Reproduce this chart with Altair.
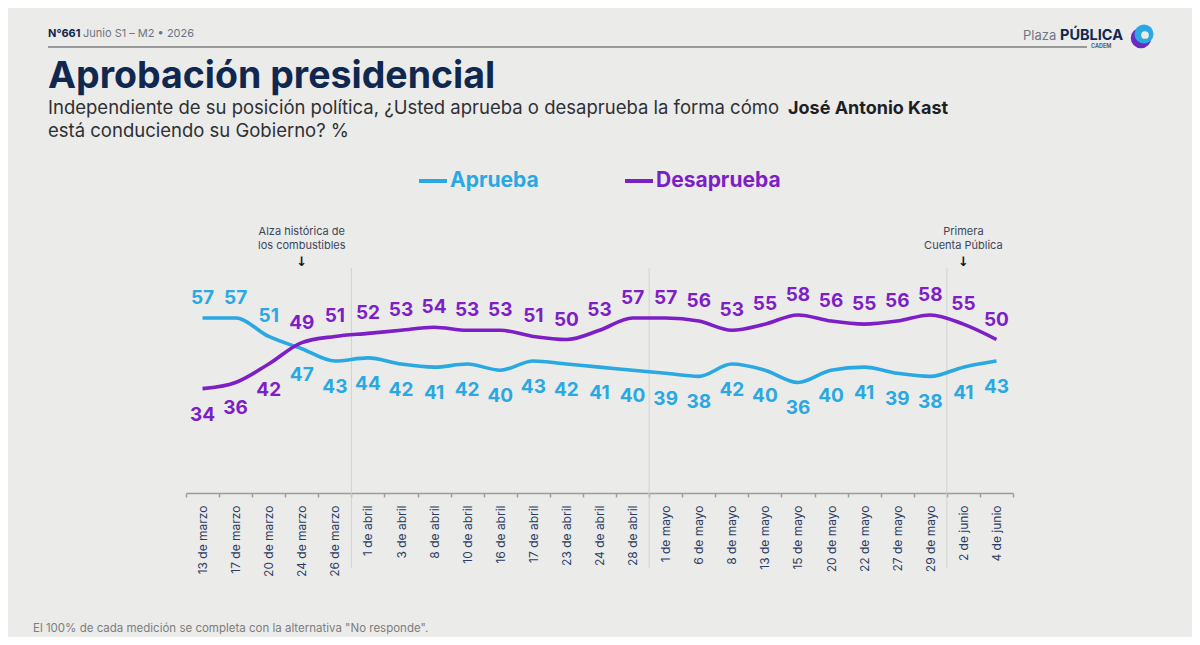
import altair as alt
import pandas as pd

dates = ["13 de marzo", "17 de marzo", "20 de marzo", "24 de marzo", "26 de marzo",
         "1 de abril", "3 de abril", "8 de abril", "10 de abril", "16 de abril",
         "17 de abril", "23 de abril", "24 de abril", "28 de abril",
         "1 de mayo", "6 de mayo", "8 de mayo", "13 de mayo", "15 de mayo",
         "20 de mayo", "22 de mayo", "27 de mayo", "29 de mayo",
         "2 de junio", "4 de junio"]
aprueba = [57, 57, 51, 47, 43, 44, 42, 41, 42, 40, 43, 42, 41, 40,
           39, 38, 42, 40, 36, 40, 41, 39, 38, 41, 43]
desaprueba = [34, 36, 42, 49, 51, 52, 53, 54, 53, 53, 51, 50, 53, 57,
              57, 56, 53, 55, 58, 56, 55, 56, 58, 55, 50]
series = ["Aprueba", "Desaprueba"]
month_starts = ["1 de abril", "1 de mayo", "2 de junio"]
events = ["24 de marzo", "2 de junio"]
event_texts = ["Alza histórica de\nlos combustibles", "Primera\nCuenta Pública"]

BLUE = "#2aa8e2"
PURPLE = "#7e1ec6"
NAVY = "#10284f"
FONT = "Inter"
BG = "#ebebea"

rows = []
for i, d in enumerate(dates):
    rows.append({"date": d, "serie": series[0], "value": aprueba[i]})
    rows.append({"date": d, "serie": series[1], "value": desaprueba[i]})
df = pd.DataFrame(rows)

W, H = 827, 307

xenc = lambda bp: alt.X("date:N", sort=dates, bandPosition=bp,
                        scale=alt.Scale(type="band", paddingInner=0, paddingOuter=0),
                        axis=alt.Axis(title=None, labelAngle=270, tickBand="extent",
                                      domainColor="#9c9c9c", domainWidth=1.5,
                                      tickColor="#9c9c9c", tickWidth=1.5, tickSize=4,
                                      labelColor="#2b3d64", labelFont=FONT,
                                      labelFontSize=12, labelPadding=8,
                                      labelLimit=200, grid=False))
yenc = alt.Y("value:Q", scale=alt.Scale(domain=[0, 100]), axis=None)
cscale = alt.Scale(domain=series, range=[BLUE, PURPLE])

base = alt.Chart(df)

seps = alt.Chart(pd.DataFrame({"date": month_starts})).mark_rule(
    color="#d2d2d2", strokeWidth=1
).encode(x=xenc(0), y=alt.value(82), y2=alt.value(382))

lines = base.mark_line(interpolate="monotone", strokeWidth=3.6).encode(
    x=xenc(0.5), y=yenc,
    color=alt.Color("serie:N", scale=cscale,
                    legend=alt.Legend(title=None, orient="none", direction="horizontal",
                                      legendX=231, legendY=-21,
                                      symbolType="stroke", symbolSize=784,
                                      symbolStrokeWidth=4, labelFont=FONT,
                                      labelFontSize=21, labelFontWeight="bold",
                                      labelOffset=1, columnPadding=78,
                                      labelColor=alt.ExprRef(
                                          f"datum.value == 'Aprueba' ? '{BLUE}' : '{PURPLE}'"))),
)

labels_base = base.transform_joinaggregate(
    maxv="max(value)", groupby=["date"]
)
above = labels_base.transform_filter("datum.value == datum.maxv").mark_text(
    font=FONT, fontSize=19, fontWeight="bold", dy=-20, baseline="middle"
).encode(x=xenc(0.5), y=yenc, text="value:Q",
         color=alt.Color("serie:N", scale=cscale, legend=None))
below = labels_base.transform_filter("datum.value < datum.maxv").mark_text(
    font=FONT, fontSize=19, fontWeight="bold", dy=26, baseline="middle"
).encode(x=xenc(0.5), y=yenc, text="value:Q",
         color=alt.Color("serie:N", scale=cscale, legend=None))

ev = pd.DataFrame({"date": events, "txt": event_texts})
ev_text = alt.Chart(ev).mark_text(
    font=FONT, fontSize=11, color="#3b475a", lineBreak="\n", lineHeight=14,
    baseline="middle"
).encode(x=xenc(0.5), y=alt.value(46), text="txt:N")
ev_arrow = alt.Chart(ev).mark_text(
    font="DejaVu Sans", fontSize=13, fontWeight="bold", color="#111111", baseline="middle"
).encode(x=xenc(0.5), y=alt.value(76), text=alt.value("↓"))

one = pd.DataFrame({"a": [0]})

def txt(s, x, y, size, color, weight="normal", font=FONT, align="left", baseline="alphabetic"):
    return alt.Chart(one).mark_text(
        font=font, fontSize=size, fontWeight=weight, color=color,
        align=align, baseline=baseline
    ).encode(x=alt.value(x), y=alt.value(y), text=alt.value(s))

deco = [
    txt("N°661", -138, -149, 11, NAVY, "bold"),
    txt("Junio S1 – M2 • 2026", -103, -149, 11, "#6d7380"),
    alt.Chart(one).mark_rule(color="#7c7c7c", strokeWidth=1.3).encode(
        x=alt.value(-138), x2=alt.value(901), y=alt.value(-139)),
    txt("Plaza", 837, -146, 13, "#707686"),
    txt("PÚBLICA", 874, -146, 14.5, NAVY, "bold"),
    txt("CADEM", 905, -138, 5.5, "#555f70", "bold"),
    alt.Chart(one).mark_point(filled=True, shape="circle", size=420, color="#6a2bc0", opacity=1).encode(
        x=alt.value(955), y=alt.value(-148)),
    alt.Chart(one).mark_point(filled=True, shape="circle", size=360, color="#2aa8e2", opacity=1).encode(
        x=alt.value(958), y=alt.value(-152)),
    alt.Chart(one).mark_point(filled=True, shape="circle", size=60, color=BG, opacity=1).encode(
        x=alt.value(959), y=alt.value(-151)),
    txt("Aprobación presidencial", -138, -98, 37.5, NAVY, "bold"),
    txt("Independiente de su posición política, ¿Usted aprueba o desaprueba la forma cómo",
        -138, -72, 18.5, "#2f3033"),
    txt("José Antonio Kast", 602, -72, 18, "#1d1f25", "bold"),
    txt("está conduciendo su Gobierno? %", -138, -49, 18.5, "#2f3033"),
    txt("El 100% de cada medición se completa con la alternativa \"No responde\".",
        -153, 446, 11.5, "#7d7d7d"),
]

chart = alt.layer(seps, lines, above, below, ev_text, ev_arrow, *deco).properties(
    width=W, height=H,
    background=BG,
    padding={"left": 178, "top": 178, "right": 179, "bottom": 144},
    autosize=alt.AutoSizeParams(type="none"),
).configure_view(stroke=None)

chart.save("out.html", embed_options={"renderer": "svg", "actions": False})
